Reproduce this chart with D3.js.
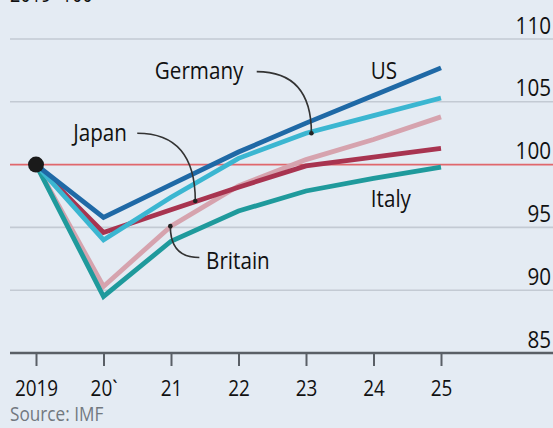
<!DOCTYPE html>
<html>
<head>
<meta charset="utf-8">
<script src="https://cdn.jsdelivr.net/npm/d3@7"></script>
<style>
  body { margin: 0; background: #e4ebf3; }
  text { font-family: "Open Sans", sans-serif; fill: #111; }
</style>
</head>
<body>
<svg id="svg" width="553" height="428"></svg>
<script>
// data, 2019 = 100
var years = [2019, 2020, 2021, 2022, 2023, 2024, 2025];
var yearLabels = ["2019", "20`", "21", "22", "23", "24", "25"];
var yTicks = [85, 90, 95, 100, 105, 110];

var britain = [100, 90.3, 95.1, 98.3, 100.4, 102.0, 103.8];
var italy   = [100, 89.5, 93.9, 96.3, 97.9, 98.9, 99.8];
var japan   = [100, 94.6, 96.4, 98.2, 99.9, 100.6, 101.3];
var germany = [100, 94.0, 97.4, 100.5, 102.5, 103.9, 105.3];
var us      = [100, 95.8, 98.4, 101.0, 103.3, 105.5, 107.7];

var series = [
  {name: "Britain", values: britain, color: "#d6a3ae"},
  {name: "Italy",   values: italy,   color: "#1f9a9c"},
  {name: "Japan",   values: japan,   color: "#a83450"},
  {name: "Germany", values: germany, color: "#3bb6d1"},
  {name: "US",      values: us,      color: "#1f69a6"}
];

var svg = d3.select("#svg"),
    width = +svg.attr("width"),
    height = +svg.attr("height");

// the type is a condensed face, so squeeze it a little
var squeeze = 0.86;

function place(px, py) {
  return "translate(" + px + "," + py + ") scale(" + squeeze + ",1)";
}

var x = d3.scaleLinear()
    .domain([2019, 2025])
    .range([36, 441]);

var y = d3.scaleLinear()
    .domain([85, 110])
    .range([353, 39]);

svg.append("rect")
    .attr("width", width)
    .attr("height", height)
    .attr("fill", "#e4ebf3");

// index note, cut off at the top
svg.append("text")
    .attr("transform", place(10, 2))
    .attr("font-size", 21)
    .text("2019=100");

// gridlines + labels
svg.append("g")
  .selectAll("line")
  .data(yTicks.filter(function(d) { return d != 85 && d != 100; }))
  .enter().append("line")
    .attr("x1", 10)
    .attr("x2", width)
    .attr("y1", function(d) { return y(d); })
    .attr("y2", function(d) { return y(d); })
    .attr("stroke", "#c3cad3")
    .attr("stroke-width", 1.6);

svg.append("line")
    .attr("x1", 10)
    .attr("x2", width)
    .attr("y1", y(100))
    .attr("y2", y(100))
    .attr("stroke", "#e0676c")
    .attr("stroke-width", 1.6);

svg.append("g")
  .selectAll("text")
  .data(yTicks)
  .enter().append("text")
    .attr("transform", function(d) { return place(551, y(d) - 5.5); })
    .attr("text-anchor", "end")
    .attr("font-size", 24)
    .text(function(d) { return d; });

// x axis
var xAxis = svg.append("g")
    .attr("transform", "translate(0," + y(85) + ")")
    .call(d3.axisBottom(x)
      .tickValues(years)
      .tickSize(13)
      .tickFormat(function(d, i) { return yearLabels[i]; }));

xAxis.select(".domain").remove();
xAxis.selectAll(".tick line")
    .attr("stroke", "#5a5f66")
    .attr("stroke-width", 2);
xAxis.selectAll(".tick text")
    .attr("font-family", null)
    .attr("font-size", 22)
    .attr("fill", "#111")
    .attr("y", 0)
    .attr("dy", 0)
    .attr("transform", "translate(0,43) scale(" + squeeze + ",1)");

svg.append("line")
    .attr("x1", 10)
    .attr("x2", width)
    .attr("y1", y(85))
    .attr("y2", y(85))
    .attr("stroke", "#5a5f66")
    .attr("stroke-width", 2.5);

// lines
var line = d3.line()
    .x(function(d, i) { return x(years[i]); })
    .y(function(d) { return y(d); });

svg.append("g")
  .selectAll("path")
  .data(series)
  .enter().append("path")
    .attr("d", function(d) { return line(d.values); })
    .attr("fill", "none")
    .attr("stroke", function(d) { return d.color; })
    .attr("stroke-width", 4.8)
    .attr("stroke-linejoin", "miter");

svg.append("circle")
    .attr("cx", x(2019))
    .attr("cy", y(100))
    .attr("r", 8)
    .attr("fill", "#1a1a1a");

// labels and leader lines
var labels = [
  {text: "Germany", x: 2020.76, y: 106.8},
  {text: "US",      x: 2023.96, y: 106.8},
  {text: "Japan",   x: 2019.55, y: 101.9},
  {text: "Italy",   x: 2023.96, y: 96.6},
  {text: "Britain", x: 2021.52, y: 91.65}
];

svg.append("g")
  .selectAll("text")
  .data(labels)
  .enter().append("text")
    .attr("transform", function(d) { return place(x(d.x), y(d.y)); })
    .attr("font-size", 24)
    .text(function(d) { return d.text; });

var leaders = [
  {from: [2022.27, 107.4], ctrl: [2023.08, 107.4], to: [2023.08, 102.5]},
  {from: [2020.5, 102.5],  ctrl: [2021.36, 102.5], to: [2021.36, 97.1]},
  {from: [2021.42, 92.6],  ctrl: [2020.99, 92.6],  to: [2020.99, 95.1]}
];

svg.append("g")
  .selectAll("path")
  .data(leaders)
  .enter().append("path")
    .attr("d", function(d) {
      return "M" + x(d.from[0]) + "," + y(d.from[1]) +
             "Q" + x(d.ctrl[0]) + "," + y(d.ctrl[1]) +
             " " + x(d.to[0]) + "," + y(d.to[1]);
    })
    .attr("fill", "none")
    .attr("stroke", "#333")
    .attr("stroke-width", 1.6);

svg.append("g")
  .selectAll("circle")
  .data(leaders)
  .enter().append("circle")
    .attr("cx", function(d) { return x(d.to[0]); })
    .attr("cy", function(d) { return y(d.to[1]); })
    .attr("r", 2.3)
    .attr("fill", "#222");

svg.append("text")
    .attr("transform", place(10, 421))
    .attr("font-size", 20)
    .style("fill", "#72787f")
    .text("Source: IMF");
</script>
</body>
</html>
